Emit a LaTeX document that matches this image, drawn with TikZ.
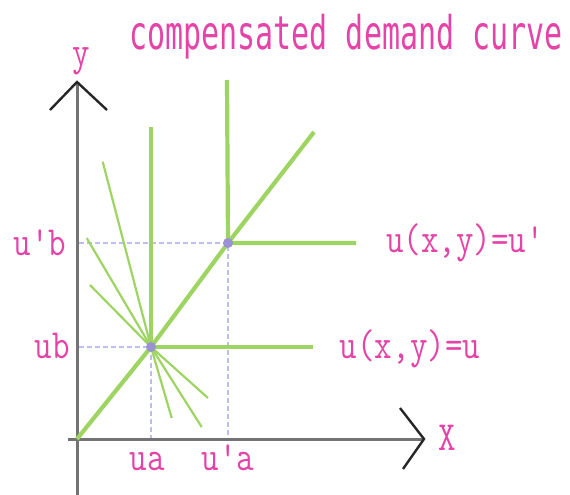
\documentclass[tikz,border=0pt]{standalone}
\usepackage{fontspec}
\newfontfamily\titlefont{DejaVu Sans Mono}
\definecolor{pinktxt}{RGB}{228,68,168}
\definecolor{lgreen}{RGB}{158,212,98}
\definecolor{dotc}{RGB}{155,145,215}
\definecolor{dashc}{RGB}{190,190,238}
\definecolor{axisc}{RGB}{115,115,115}
\newcommand{\lbltext}[1]{\scalebox{1}[1.22]{\ttfamily\fontsize{34}{34}\selectfont #1}}
\begin{document}
\begin{tikzpicture}[x=1pt,y=-1pt,
  lbl/.style={text=pinktxt,inner sep=0pt,anchor=base,font=\fontsize{30}{30}\selectfont},
  axisline/.style={draw=axisc,line width=3pt},
  chev/.style={draw=black!85,line width=2.4pt,line join=miter},
  thick green/.style={draw=lgreen,line width=4.2pt},
  thin green/.style={draw=lgreen,line width=2.2pt},
  guide/.style={draw=dashc,line width=1.1pt,dash pattern=on 5pt off 3pt},
  dotstyle/.style={circle,fill=dotc,inner sep=0pt,minimum size=10pt}]
\useasboundingbox (0,0) rectangle (570,495);
% coordinates
\coordinate (O) at (77,439);
\coordinate (yb) at (77,495);
\coordinate (yt) at (77,82);
\coordinate (xl) at (68,439);
\coordinate (xr) at (424,439);
\coordinate (ycl) at (50,110);
\coordinate (ycr) at (107,110);
\coordinate (xcu) at (400,408);
\coordinate (xcd) at (403,469);
\coordinate (A) at (151,347);
\coordinate (B) at (228,243);
\coordinate (Atop) at (151,127);
\coordinate (Btop) at (227,80);
\coordinate (Aright) at (313,347);
\coordinate (Bright) at (356,243);
\coordinate (Dend) at (314,132);
\coordinate (Ay) at (79,347);
\coordinate (By) at (79,243);
\coordinate (Ax) at (151,438);
\coordinate (Bx) at (228,438);
\coordinate (l1a) at (102.7,161.7);
\coordinate (l1b) at (171.7,418);
\coordinate (l2a) at (86.7,238);
\coordinate (l2b) at (201.7,427);
\coordinate (l3a) at (90,285);
\coordinate (l3b) at (208,398);
% guides
\draw[guide] (By) -- (B) -- (Bx);
\draw[guide] (Ay) -- (A) -- (Ax);
% axes
\draw[axisline] (yb) -- (yt);
\draw[axisline] (xl) -- (xr);
\draw[chev] (ycl) -- (yt) -- (ycr);
\draw[chev] (xcu) -- (xr) -- (xcd);
% thin lines through A
\draw[thin green] (l1a) -- (A) -- (l1b);
\draw[thin green] (l2a) -- (A) -- (l2b);
\draw[thin green] (l3a) -- (A) -- (l3b);
% thick lines
\draw[thick green] (Atop) -- (A) -- (Aright);
\draw[thick green] (Btop) -- (B) -- (Bright);
\draw[thick green] (O) -- (A) -- (B) -- (Dend);
% dots
\node[dotstyle] (dA) at (A) {};
\node[dotstyle] (dB) at (B) {};
% labels
\node[lbl] (title) at (346,50) {\scalebox{1}[1.55]{\titlefont compensated demand curve}};
\node[lbl] (ylab) at (81,66) {\lbltext{y}};
\node[lbl] (xlab) at (447,450) {\lbltext{X}};
\node[lbl] (ubp) at (40,255) {\lbltext{u'b}};
\node[lbl] (ubl) at (52,358) {\lbltext{ub}};
\node[lbl] (ual) at (147,470) {\lbltext{ua}};
\node[lbl] (uap) at (228,470) {\lbltext{u'a}};
\node[lbl] (eq2) at (465,252) {\lbltext{u(x,y)=u'}};
\node[lbl] (eq1) at (410,358) {\lbltext{u(x,y)=u}};
\end{tikzpicture}
\end{document}
